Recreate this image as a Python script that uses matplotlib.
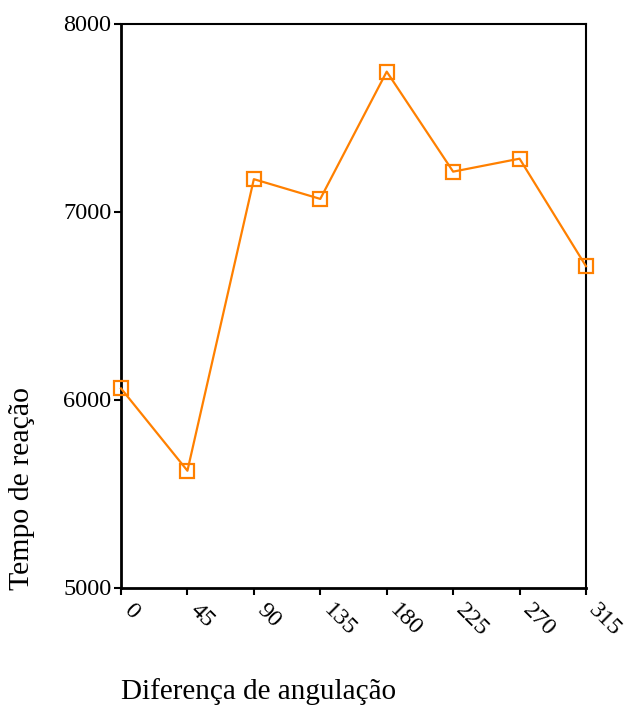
import matplotlib
matplotlib.use("Agg")
import matplotlib.pyplot as plt
from matplotlib.transforms import ScaledTranslation

angles = [0, 45, 90, 135, 180, 225, 270, 315]
reaction_time = [6059, 5621, 7172, 7067, 7744, 7212, 7281, 6709]
y_ticks = [5000, 6000, 7000, 8000]

plt.rcParams['font.family'] = ['Liberation Serif', 'DejaVu Serif']

fig = plt.figure(figsize=(6.25, 7.05), dpi=100)
W, H = 625, 705
left, right, top, bottom = 121, 586, 23.5, 587.5
ax = fig.add_axes([left / W, 1 - bottom / H, (right - left) / W, (bottom - top) / H])

ax.plot(angles, reaction_time, color='#FF8000', linewidth=1.6,
        marker='s', markersize=10, markerfacecolor='none',
        markeredgecolor='#FF8000', markeredgewidth=1.6, clip_on=False, zorder=3)

ax.set_xlim(0, 315)
ax.set_ylim(5000, 8000)
ax.set_xticks(angles)
ax.set_yticks(y_ticks)
ax.set_yticklabels([str(v) for v in y_ticks], fontsize=17.5)
ax.set_xticklabels([str(a) for a in angles], fontsize=17.5, rotation=-45,
                   ha='left', va='center', rotation_mode='anchor')
ax.tick_params(axis='x', direction='out', length=5, width=1.5, pad=9)
ax.tick_params(axis='y', direction='out', length=5, width=1.5, pad=2)

# nudge the slanted angle labels a little to the right of their ticks
shift = ScaledTranslation(6 / 100, 0, fig.dpi_scale_trans)
for lbl in ax.get_xticklabels():
    lbl.set_transform(lbl.get_transform() + shift)

for side in ['left', 'bottom']:
    ax.spines[side].set_linewidth(2)
for side in ['top', 'right']:
    ax.spines[side].set_linewidth(1.5)

fig.text(22 / W, 1 - 488 / H, 'Tempo de reação', rotation=90,
         fontsize=21.5, ha='center', va='center')
fig.text(121 / W, 1 - 692 / H, 'Diferença de angulação',
         fontsize=21, ha='left', va='center')

fig.savefig('out.png', dpi=100)
